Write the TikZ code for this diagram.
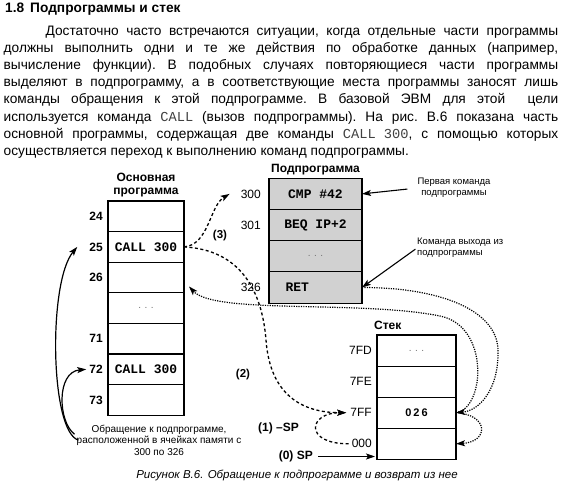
\documentclass[tikz,border=0pt]{standalone}
\usepackage{fontspec}
\setmainfont{Liberation Sans}
\setmonofont{Liberation Mono}
\usepackage{xcolor}
\usepackage{tikz}
\usetikzlibrary{positioning,arrows.meta,calc}

\hyphenpenalty=10000
\exhyphenpenalty=10000
\tolerance=10000
\newcommand{\cmdtext}[1]{{\ttfamily\mdseries\color{black!75}#1}}
\newcommand{\celldots}{{\fontsize{10}{10}\selectfont\rmfamily\mdseries\color{black!55}.\hspace{3.5pt}.\hspace{3.5pt}.}}

\begin{document}
\begin{tikzpicture}[x=1pt,y=-1pt,
  cell/.style={draw, line width=1.1pt, outer sep=0pt, inner sep=0pt, minimum height=30.6pt,
    font=\fontsize{13}{13}\selectfont\ttfamily\bfseries},
  mcell/.style={cell, minimum width=76pt},
  scell/.style={cell, minimum width=93pt, minimum height=31.2pt, fill=black!18},
  kcell/.style={cell, minimum width=79pt, minimum height=31.1pt},
  addr/.style={inner sep=0pt, font=\fontsize{12}{12}\selectfont},
  maddr/.style={inner sep=0pt, font=\fontsize{12}{12}\selectfont\bfseries},
  boxtitle/.style={inner sep=0pt, align=center, font=\fontsize{12}{12.5}\selectfont\bfseries},
  notetext/.style={inner sep=0pt, font=\fontsize{9.5}{10.7}\selectfont},
  steplbl/.style={inner sep=0pt, font=\fontsize{11.5}{12}\selectfont\bfseries},
  dashline/.style={line width=1.3pt, dash pattern=on 3pt off 2.5pt},
  dotline/.style={line width=1.2pt, dash pattern=on 1.2pt off 1.2pt},
  hd/.style={-{Stealth[length=9pt,width=6pt,inset=2pt]}}
]
\useasboundingbox (0,0) rectangle (565,497);

\node[anchor=base west, inner sep=0pt, font=\fontsize{13.7}{17.2}\selectfont\bfseries] (sect) at (5,13)
  {1.8\hspace{6pt}Подпрограммы и стек};
\node[anchor=base west, inner sep=0pt, text width=554.5pt, align=justify,
  font=\fontsize{13.7}{17.15}\selectfont\frenchspacing] (para) at (3.5,35.3)
  {\hspace*{42pt}Достаточно часто встречаются ситуации, когда отдельные части программы\linebreak
  должны выполнить одни и те же действия по обработке данных (например,\linebreak
  вычисление функции). В подобных случаях повторяющиеся части программы\linebreak
  выделяют в подпрограмму, а в соответствующие места программы заносят лишь\linebreak
  команды обращения к этой подпрограмме. В базовой ЭВМ для этой\ \ цели\linebreak
  используется команда \cmdtext{CALL} (вызов подпрограммы). На рис. В.6 показана часть\linebreak
  основной программы, содержащая две команды \cmdtext{CALL 300}, с помощью которых\linebreak
  осуществляется переход к выполнению команд подпрограммы.};

\node[mcell] (m24) at (146,216.3) {};
\node[mcell, below=0pt of m24] (m25) {CALL 300};
\node[mcell, below=0pt of m25] (m26) {};
\node[mcell, below=0pt of m26] (mdots) {\celldots};
\node[mcell, below=0pt of mdots] (m71) {};
\node[mcell, below=0pt of m71] (m72) {CALL 300};
\node[mcell, below=0pt of m72] (m73) {};
\node[maddr, left=5pt of m24] (l24) {24};
\node[maddr, left=5pt of m25] (l25) {25};
\node[maddr, left=5pt of m26] (l26) {26};
\node[maddr, left=5pt of m71] (l71) {71};
\node[maddr, left=5pt of m72] (l72) {72};
\node[maddr, left=5pt of m73] (l73) {73};
\node[boxtitle, above=4pt of m24] (tmain) {Основная\\программа};

\node[scell] (s300) at (315.5,193.9) {CMP \#42};
\node[scell, below=0pt of s300] (s301) {BEQ IP+2};
\node[scell, below=0pt of s301] (sdots) {\celldots};
\node[scell, below=0pt of sdots] (s326) {\makebox[60pt][l]{RET}};
\node[addr, left=8pt of s300] (l300) {300};
\node[addr, left=8pt of s301] (l301) {301};
\node[addr, left=8pt of s326] (l326) {326};
\node[boxtitle, above=3pt of s300] (tsub) {Подпрограмма};

\node[kcell] (k7FD) at (416.5,350.5) {\celldots};
\node[kcell, below=0pt of k7FD] (k7FE) {};
\node[kcell, below=0pt of k7FE] (k7FF) {\fontsize{11}{11}\selectfont\rmfamily 0\kern2pt2\kern2pt6};
\node[kcell, below=0pt of k7FF] (k000) {};
\node[addr, left=5pt of k7FD] (l7FD) {7FD};
\node[addr, left=5pt of k7FE] (l7FE) {7FE};
\node[addr, left=5pt of k7FF] (l7FF) {7FF};
\node[addr, left=5pt of k000] (l000) {000};
\node[boxtitle, above right=5pt and -3pt of k7FD.north west] (tstack) {Стек};

\node[notetext, align=center] (nfirst) at (454,188) {Первая команда\\подпрограммы};
\node[notetext, align=left, anchor=west] (nexit) at (417,248) {Команда выхода из\\подпрограммы};
\node[notetext, font=\fontsize{10}{11.7}\selectfont, align=center] (ncall) at (159,440.2)
  {Обращение к подпрограмме,\\расположенной в ячейках памяти с\\300 по 326};

\node[steplbl] (n3) at (220,236) {(3)};
\node[steplbl] (n2) at (243,375) {(2)};
\node[steplbl, font=\fontsize{12}{12}\selectfont\bfseries, anchor=east] (n1) at (299,428) {(1) –SP};
\node[steplbl, font=\fontsize{12}{12}\selectfont\bfseries, anchor=east] (n0) at (313,456.5) {(0) SP};

\node[inner sep=0pt, font=\fontsize{11.5}{12}\selectfont\itshape] (fig) at (297,475)
  {Рисунок В.6. Обращение к подпрограмме и возврат из нее};

\coordinate (bend2) at (266,340);
\coordinate (retbend) at (498,350);
\coordinate (backbend) at (440,316);
\coordinate (backend) at ($(m26.east)+(5,9)$);

\draw[line width=1.1pt, hd, shorten <=10pt] (nfirst.west) -- (s300.east);
\draw[line width=1.1pt, hd, shorten <=2pt] (nexit.west) -- (s326.east);
\draw[dashline, hd] (m25.east) .. controls +(25,-2) and +(-20,12) .. ([xshift=-11pt]l300.west);
\draw[dashline, hd] (m25.east) .. controls +(56,3) and +(-4,-50) .. (bend2)
  .. controls +(4,55) and +(-44,0) .. ([xshift=-4pt]l7FF.west);
\draw[dashline, hd] ([xshift=-3pt]l000.west) .. controls +(-45,0) and +(-38,0) .. ([xshift=-4pt]l7FF.west);
\draw[line width=1.1pt, hd, shorten <=5pt, shorten >=2pt] (n0.east) -- (n0.east -| k000.west);
\draw[dotline, hd] (s326.east) .. controls +(78,0) and +(-1,-40) .. (retbend)
  .. controls +(1,40) and +(23,-2) .. (k7FF.east);
\draw[dotline, hd] (k7FF.east) .. controls +(29,-4) and +(50,10) .. (backbend)
  .. controls +(-80,-16) and +(26,28) .. (backend);
\draw[dotline, hd] (k7FF.east) .. controls +(33,2) and +(33,-2) .. (k000.east);
\draw[line width=1.2pt, hd] ([xshift=2pt]ncall.west) .. controls (50,432) and (48,282) .. ([xshift=-12pt]l25.west);
\draw[line width=1.2pt, hd] ([shift={(-2,-6)}]ncall.west) .. controls (58,422) and (56,372) .. ([xshift=-3pt]l72.west);
\end{tikzpicture}
\end{document}
